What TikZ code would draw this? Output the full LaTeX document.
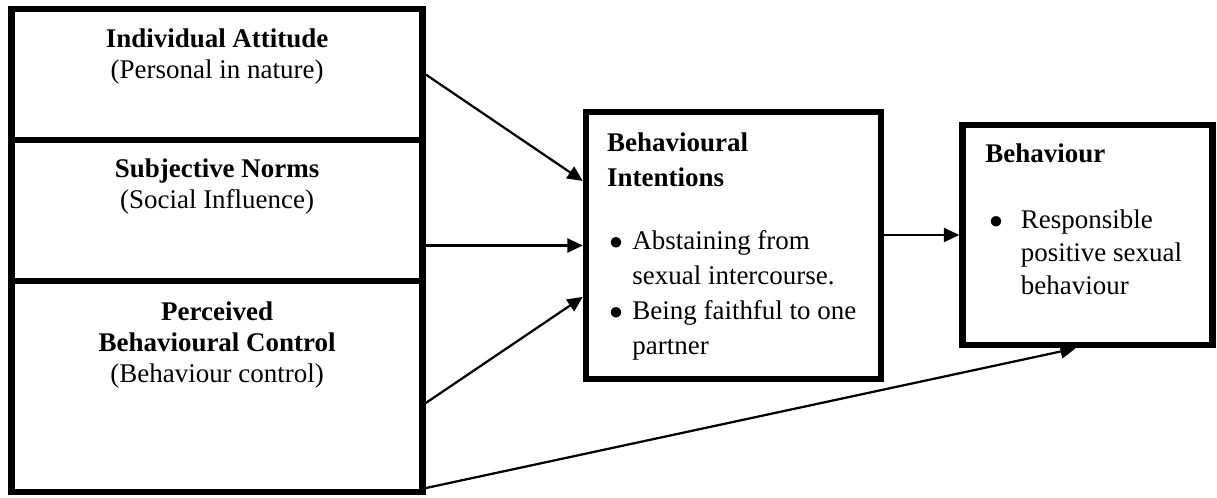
\documentclass[tikz,border=0pt]{standalone}
\usepackage{fontspec}
\setmainfont{Liberation Serif}
\usepackage{tikz}
\usetikzlibrary{arrows.meta,calc}

\begin{document}
\begin{tikzpicture}[scale=0.15635,
  box/.style={draw=black, line width=2.9pt, inner sep=0pt},
  txt/.style={inner sep=0pt, anchor=north, align=center, font=\fontsize{12}{13.8}\selectfont},
  head/.style={inner sep=0pt, anchor=north west, align=left, font=\fontsize{12}{15.6}\selectfont\bfseries},
  lst/.style={inner sep=0pt, anchor=north west},
  arr/.style={black, line width=1pt, -{Triangle[length=6.8pt,width=6.2pt]}}]
\useasboundingbox (0,0) rectangle (121.7,-49.7);
% left column
\node [box, minimum width=6.423cm, minimum height=2.048cm] (att) at (21.71,-7.45) {};
\node [box, minimum width=6.423cm, minimum height=2.205cm] (norm) at (21.71,-21.05) {};
\node [box, minimum width=6.423cm, minimum height=3.299cm] (pbc) at (21.71,-38.65) {};
\node [txt] (attTxt) at (21.71,-2.87) {\textbf{Individual Attitude}\\(Personal in nature)};
\node [txt] (normTxt) at (21.71,-15.84) {\textbf{Subjective Norms}\\(Social Influence)};
\node [txt] (pbcTxt) at (21.71,-30.10) {\textbf{Perceived}\\\textbf{Behavioural Control}\\(Behaviour control)};
% intentions
\node [box, minimum width=4.612cm, minimum height=4.175cm] (mid) at (73.35,-24.55) {};
\node [head] (midHead) at (60.67,-13.24) {Behavioural\\Intentions};
\node [lst, font=\fontsize{12}{15.6}\selectfont] (midList) at (60.90,-22.44) {%
  \begin{tabular}{@{}l@{\hspace{4.2pt}}l@{}}
  $\bullet$ & Abstaining from\\
            & sexual intercourse.\\
  $\bullet$ & Being faithful to one\\
            & partner
  \end{tabular}};
% behaviour
\node [box, minimum width=3.909cm, minimum height=3.440cm] (beh) at (108.75,-23.50) {};
\node [head] (behHead) at (98.50,-14.34) {Behaviour};
\node [lst, font=\fontsize{12}{14.7}\selectfont] (behList) at (98.90,-20.49) {%
  \begin{tabular}{@{}l@{\hspace{8.0pt}}l@{}}
  $\bullet$ & Responsible\\
            & positive sexual\\
            & behaviour
  \end{tabular}};
% arrows
\draw [arr] (att.east) -- ($(mid.north west)!0.264!(mid.south west)$);
\draw [arr] (mid.west -| norm.east) -- (mid.west);
\draw [arr] ($(pbc.north east)!0.576!(pbc.south east)$) -- ($(mid.north west)!0.688!(mid.south west)$);
\draw [arr] ($(pbc.north east)!0.967!(pbc.south east)$) -- ($(beh.south west)!0.454!(beh.south east)$);
\draw [arr] (beh.west -| mid.east) -- (beh.west);
\end{tikzpicture}
\end{document}
